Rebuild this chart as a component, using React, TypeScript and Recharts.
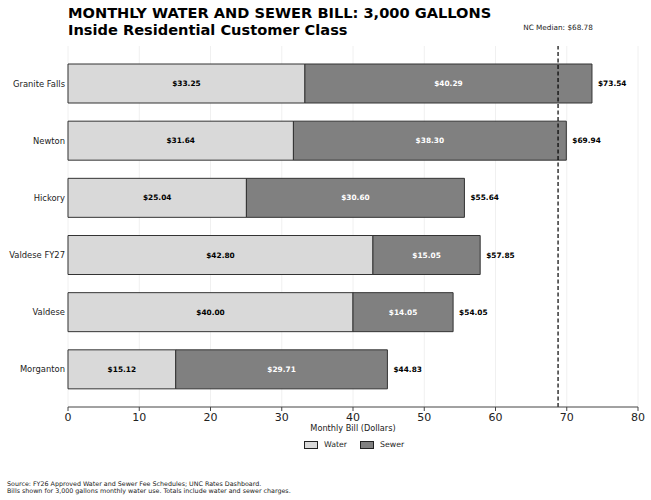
import { Bar, BarChart, CartesianGrid, LabelList, ReferenceLine, XAxis, YAxis } from "recharts";

const cities = ["Granite Falls", "Newton", "Hickory", "Valdese FY27", "Valdese", "Morganton"];
const water = [33.25, 31.64, 25.04, 42.8, 40.0, 15.12];
const sewer = [40.29, 38.3, 30.6, 15.05, 14.05, 29.71];
const totals = [73.54, 69.94, 55.64, 57.85, 54.05, 44.83];
const xTicks = [0, 10, 20, 30, 40, 50, 60, 70, 80];
const ncMedian = 68.78;

const WATER = "#d9d9d9";
const SEWER = "#808080";
const FONT = "'DejaVu Sans', sans-serif";

const data = cities.map((city, i) => ({ city, water: water[i], sewer: sewer[i], total: totals[i] }));
const money = (v: any) => `$${Number(v).toFixed(2)}`;

function MedianLabel({ viewBox }: any) {
  return (
    <text x={viewBox.x} y={30} textAnchor="middle" fontSize={7.3} fontFamily={FONT} fill="#222">
      NC Median: {money(ncMedian)}
    </text>
  );
}

function CityTick({ x, y, payload }: any) {
  return (
    <text x={x + 7} y={y} dy={3} textAnchor="end" fontSize={8.4} fontFamily={FONT} fill="#222">
      {payload.value}
    </text>
  );
}

export default function App() {
  return (
    <div style={{ position: "absolute", left: 0, top: 0, width: 651, height: 500, background: "#fff", fontFamily: FONT }}>
      <div style={{ position: "absolute", left: 68, top: 4, fontSize: 14.6, fontWeight: "bold", lineHeight: "17px", color: "#000" }}>
        MONTHLY WATER AND SEWER BILL: 3,000 GALLONS
        <br />
        Inside Residential Customer Class
      </div>
      <BarChart
        width={651}
        height={500}
        data={data}
        layout="vertical"
        barCategoryGap={0}
        margin={{ top: 46, right: 13, left: 0, bottom: 63 }}
      >
        <CartesianGrid horizontal={false} stroke="#f0f0f0" />
        <XAxis
          type="number"
          domain={[0, 80]}
          ticks={xTicks}
          height={30}
          tick={{ fontSize: 11, fill: "#222", fontFamily: FONT }}
          tickLine={{ stroke: "#444" }}
          axisLine={{ stroke: "#444" }}
          tickSize={4}
          label={{ value: "Monthly Bill (Dollars)", position: "insideBottom", offset: 6, fontSize: 8.2, fill: "#222", fontFamily: FONT }}
        />
        <YAxis
          type="category"
          dataKey="city"
          width={68}
          axisLine={false}
          tickLine={false}
          padding={{ top: 9, bottom: 9 }}
          tick={<CityTick />}
          tickMargin={4}
        />
        <Bar dataKey="water" stackId="bill" fill={WATER} stroke="#333" strokeWidth={1} barSize={39} isAnimationActive={false}>
          <LabelList dataKey="water" position="center" formatter={money} fontSize={7.4} fontWeight="bold" fill="#000" fontFamily={FONT} />
        </Bar>
        <Bar dataKey="sewer" stackId="bill" fill={SEWER} stroke="#333" strokeWidth={1} barSize={39} isAnimationActive={false}>
          <LabelList dataKey="sewer" position="center" formatter={money} fontSize={7.4} fontWeight="bold" fill="#fff" fontFamily={FONT} />
          <LabelList dataKey="total" position="right" offset={6} formatter={money} fontSize={7.4} fontWeight="bold" fill="#000" fontFamily={FONT} />
        </Bar>
        <ReferenceLine x={ncMedian} stroke="#000" strokeDasharray="4 2.5" strokeWidth={1.2} label={<MedianLabel />} />
      </BarChart>
      <div style={{ position: "absolute", left: 304, top: 440, display: "flex", alignItems: "center", fontSize: 7.8, color: "#222" }}>
        <span style={{ display: "inline-block", width: 12, height: 6, background: WATER, border: "1px solid #222", marginRight: 6 }} />
        <span style={{ marginRight: 13 }}>Water</span>
        <span style={{ display: "inline-block", width: 12, height: 6, background: SEWER, border: "1px solid #222", marginRight: 6 }} />
        <span>Sewer</span>
      </div>
      <div style={{ position: "absolute", left: 7, top: 479.5, fontSize: 6.35, lineHeight: "7.2px", color: "#222" }}>
        Source: FY26 Approved Water and Sewer Fee Schedules; UNC Rates Dashboard.
        <br />
        Bills shown for 3,000 gallons monthly water use. Totals include water and sewer charges.
      </div>
    </div>
  );
}
